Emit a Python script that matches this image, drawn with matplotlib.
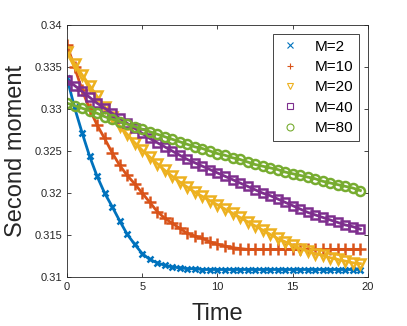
import numpy as np
import matplotlib
matplotlib.use("Agg")
import matplotlib.pyplot as plt
from matplotlib.lines import Line2D

plt.rcParams['font.family'] = ['Liberation Sans', 'DejaVu Sans']

# time grid (step 0.5)
time = [0.5 * i for i in range(40)]

m2 = [0.3337, 0.3302, 0.3272, 0.3244, 0.3220, 0.3200, 0.3184, 0.3167, 0.3151, 0.3139,
      0.3128, 0.3121, 0.3117, 0.3114, 0.3112, 0.3111, 0.3110, 0.3110, 0.3109, 0.3109,
      0.3109, 0.3109, 0.3109, 0.3109, 0.3109, 0.3109, 0.3109, 0.3109, 0.3109, 0.3109,
      0.3109, 0.3109, 0.3109, 0.3109, 0.3109, 0.3109, 0.3109, 0.3109, 0.3109, 0.3109]
m10 = [0.3376, 0.3350, 0.3323, 0.3300, 0.3281, 0.3265, 0.3248, 0.3233, 0.3221, 0.3211,
       0.3200, 0.3189, 0.3178, 0.3170, 0.3164, 0.3158, 0.3152, 0.3149, 0.3146, 0.3142,
       0.3139, 0.3137, 0.3135, 0.3134, 0.3133, 0.3133, 0.3133, 0.3133, 0.3133, 0.3133,
       0.3133, 0.3133, 0.3133, 0.3133, 0.3133, 0.3133, 0.3133, 0.3133, 0.3133, 0.3133]
m20 = [0.3368, 0.3354, 0.3341, 0.3328, 0.3315, 0.3303, 0.3291, 0.3280, 0.3270, 0.3260,
       0.3251, 0.3243, 0.3235, 0.3227, 0.3220, 0.3213, 0.3207, 0.3201, 0.3196, 0.3191,
       0.3186, 0.3181, 0.3176, 0.3171, 0.3166, 0.3161, 0.3156, 0.3151, 0.3146, 0.3142,
       0.3138, 0.3134, 0.3131, 0.3128, 0.3126, 0.3123, 0.3121, 0.3119, 0.3117, 0.3116]
m40 = [0.3334, 0.3328, 0.3321, 0.3314, 0.3307, 0.3301, 0.3295, 0.3289, 0.3283, 0.3277,
       0.3271, 0.3265, 0.3260, 0.3255, 0.3250, 0.3245, 0.3240, 0.3236, 0.3232, 0.3228,
       0.3224, 0.3220, 0.3216, 0.3212, 0.3208, 0.3204, 0.3200, 0.3197, 0.3193, 0.3189,
       0.3185, 0.3181, 0.3177, 0.3174, 0.3171, 0.3168, 0.3165, 0.3162, 0.3160, 0.3157]
m80 = [0.3307, 0.3304, 0.3301, 0.3298, 0.3295, 0.3291, 0.3288, 0.3285, 0.3282, 0.3279,
       0.3276, 0.3273, 0.3270, 0.3267, 0.3264, 0.3261, 0.3258, 0.3255, 0.3253, 0.3250,
       0.3247, 0.3245, 0.3242, 0.3240, 0.3237, 0.3234, 0.3232, 0.3230, 0.3228, 0.3225,
       0.3223, 0.3221, 0.3219, 0.3217, 0.3214, 0.3212, 0.3210, 0.3208, 0.3206, 0.3203]

series = [m2, m10, m20, m40, m80]
labels = ['M=2', 'M=10', 'M=20', 'M=40', 'M=80']
colors = ['#0072BD', '#D95319', '#EDB120', '#7E2F8E', '#77AC30']
markers = ['x', '+', 'v', 's', 'o']
msizes = [5, 8, 7.5, 6, 6.5]

fig = plt.figure(figsize=(4.07, 3.26), dpi=100)
ax = fig.add_axes([0.1646, 0.150, 0.7394, 0.7733])

handles = []
for y, lab, c, mk, ms in zip(series, labels, colors, markers, msizes):
    ax.plot(time, y, color=c, lw=2, marker=mk, ms=ms, mew=1.8,
            mfc='none', mec=c)
    handles.append(Line2D([], [], ls='none', marker=mk, color=c, mfc='none',
                          mec=c, ms=5, mew=0.8, label=lab))

ax.set_xlim(0, 20)
ax.set_ylim(0.31, 0.34)
ax.set_xticks([0, 5, 10, 15, 20])
ax.set_yticks([0.31, 0.315, 0.32, 0.325, 0.33, 0.335, 0.34])
ax.set_yticklabels(['0.31', '0.315', '0.32', '0.325', '0.33', '0.335', '0.34'])
ax.tick_params(direction='in', top=True, right=True, labelsize=8,
               colors='#262626', length=3, width=0.6)
for s in ax.spines.values():
    s.set_color('#262626')
    s.set_linewidth(0.6)

ax.set_xlabel('Time', fontsize=17, color='#262626', labelpad=8)
ax.set_ylabel('Second moment', fontsize=17, color='#262626', labelpad=5)

leg = ax.legend(handles=handles, loc='upper right', fontsize=11,
                fancybox=False, framealpha=1, edgecolor='#262626',
                borderpad=0.35, labelspacing=0.42, handlelength=1.5,
                handletextpad=0.9, borderaxespad=0.6)
leg.get_frame().set_linewidth(0.6)

fig.savefig('out.png', dpi=100)
